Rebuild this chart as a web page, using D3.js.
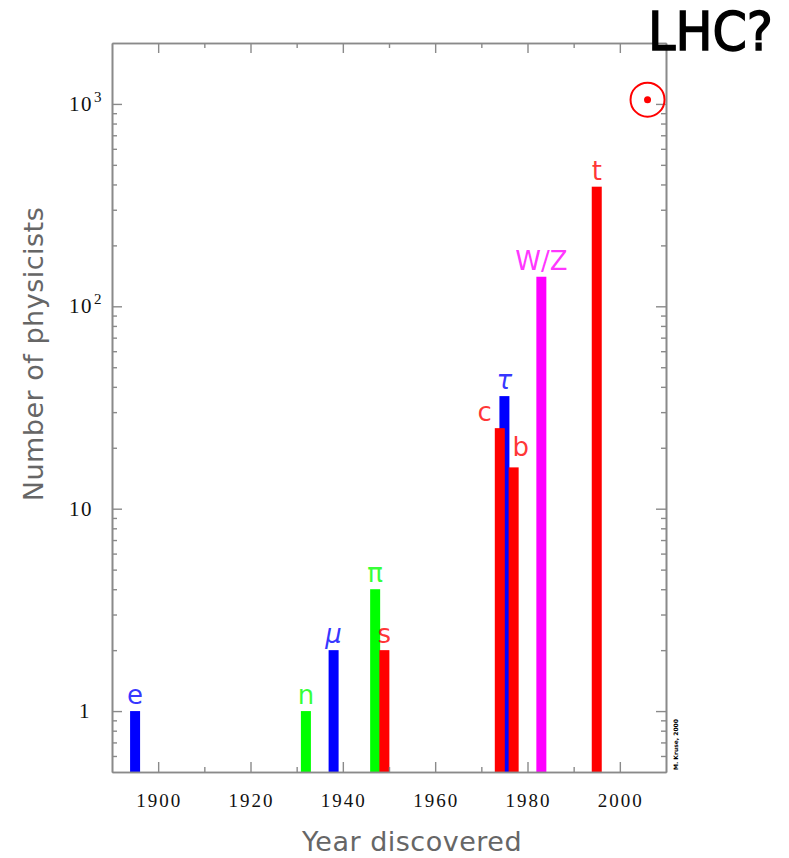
<!DOCTYPE html>
<html>
<head>
<meta charset="utf-8">
<script src="https://cdn.jsdelivr.net/npm/d3@7"></script>
<style>
    body { margin: 0; background: #fff; }
    svg { display: block; }
</style>
</head>
<body>
<svg id="chart" width="789" height="858"></svg>
<script>
// particles and the number of physicists on the discovery paper
var particles = ['e', 'n', '\u03bc', '\u03c0', 's', '\u03c4', 'c', 'b', 'W/Z', 't'];
var years = [1895, 1932, 1938, 1947, 1949, 1975, 1974, 1977, 1983, 1995];
var physicists = [1, 1, 2, 4, 2, 36, 25, 16, 140, 390];
var families = ['lepton', 'baryon', 'lepton', 'meson', 'quark', 'lepton', 'quark', 'quark', 'boson', 'quark'];

var lhcYear = 2006;
var lhcPhysicists = 1050;

var xMajorTicks = [1900, 1920, 1940, 1960, 1980, 2000];
var xMinorTicks = [1910, 1930, 1950, 1970, 1990];
var yMajorTicks = [1, 10, 100, 1000];
var yTickBase = ['1', '10', '10', '10'];
var yTickExp = ['', '', '2', '3'];

var familyColor = {
    lepton: '#0000ff',
    baryon: '#00ff00',
    meson: '#00ff00',
    quark: '#ff0000',
    boson: '#ff00ff'
};

var margin = {left: 112, top: 43, right: 666, bottom: 772};
var barWidth = 10;
var axisColor = '#8a8a8a';

var svg = d3.select('#chart');

var x = d3.scaleLinear().domain([1890, 2010]).range([margin.left, margin.right]);
var y = d3.scaleLog().domain([0.5, 2000]).range([margin.bottom, margin.top]);

// minor log ticks (2..9 per decade)
var yMinorTicks = [];
[0.1, 1, 10, 100].forEach(function (dec) {
    for (var k = 2; k <= 9; k++) {
        var v = dec * k;
        if (v > 0.5 && v < 2000) yMinorTicks.push(v);
    }
});

var data = particles.map(function (p, i) {
    return {name: p, year: years[i], value: physicists[i], family: families[i]};
});

// bars (tau first so c and b sit on top of it)
var order = ['\u03c4'];
var drawData = data.filter(function (d) { return order.indexOf(d.name) >= 0; })
    .concat(data.filter(function (d) { return order.indexOf(d.name) < 0; }));

svg.append('g').selectAll('rect')
    .data(drawData)
    .enter().append('rect')
    .attr('x', function (d) { return x(d.year) - barWidth / 2; })
    .attr('y', function (d) { return y(d.value); })
    .attr('width', barWidth)
    .attr('height', function (d) { return margin.bottom - y(d.value); })
    .attr('fill', function (d) { return familyColor[d.family]; });

// axes
function styleAxis(g) {
    g.selectAll('path').attr('stroke', axisColor).attr('stroke-width', 1.6);
    g.selectAll('line').attr('stroke', axisColor).attr('stroke-width', 1.4);
    g.selectAll('text').remove();
}

svg.append('g')
    .attr('transform', 'translate(0,' + margin.bottom + ')')
    .call(d3.axisBottom(x).tickValues(xMajorTicks).tickSize(-10).tickSizeOuter(0))
    .call(styleAxis);
svg.append('g')
    .attr('transform', 'translate(0,' + margin.bottom + ')')
    .call(d3.axisBottom(x).tickValues(xMinorTicks).tickSize(-5).tickSizeOuter(0))
    .call(styleAxis);
svg.append('g')
    .attr('transform', 'translate(0,' + margin.top + ')')
    .call(d3.axisTop(x).tickValues(xMajorTicks).tickSize(-10).tickSizeOuter(0))
    .call(styleAxis);
svg.append('g')
    .attr('transform', 'translate(0,' + margin.top + ')')
    .call(d3.axisTop(x).tickValues(xMinorTicks).tickSize(-5).tickSizeOuter(0))
    .call(styleAxis);
svg.append('g')
    .attr('transform', 'translate(' + margin.left + ',0)')
    .call(d3.axisLeft(y).tickValues(yMajorTicks).tickSize(-10).tickSizeOuter(0))
    .call(styleAxis);
svg.append('g')
    .attr('transform', 'translate(' + margin.left + ',0)')
    .call(d3.axisLeft(y).tickValues(yMinorTicks).tickSize(-5).tickSizeOuter(0))
    .call(styleAxis);
svg.append('g')
    .attr('transform', 'translate(' + margin.right + ',0)')
    .call(d3.axisRight(y).tickValues(yMajorTicks).tickSize(-10).tickSizeOuter(0))
    .call(styleAxis);
svg.append('g')
    .attr('transform', 'translate(' + margin.right + ',0)')
    .call(d3.axisRight(y).tickValues(yMinorTicks).tickSize(-5).tickSizeOuter(0))
    .call(styleAxis);

// tick labels
svg.append('g').selectAll('text')
    .data(xMajorTicks)
    .enter().append('text')
    .attr('x', function (d) { return x(d) + 1; })
    .attr('y', 807)
    .attr('text-anchor', 'middle')
    .attr('font-family', 'Liberation Serif, serif')
    .attr('font-size', 19)
    .attr('letter-spacing', 2)
    .attr('fill', '#111')
    .text(function (d) { return d; });

var yLabels = svg.append('g').selectAll('g')
    .data(yMajorTicks)
    .enter().append('g')
    .attr('transform', function (d) { return 'translate(0,' + y(d) + ')'; });

yLabels.append('text')
    .attr('x', function (d, i) { return i === 0 ? 91 : 93; })
    .attr('y', 7)
    .attr('text-anchor', 'end')
    .attr('font-family', 'Liberation Serif, serif')
    .attr('font-size', 21)
    .attr('letter-spacing', 1.5)
    .attr('fill', '#111')
    .text(function (d, i) { return yTickBase[i]; });

yLabels.append('text')
    .attr('x', 94)
    .attr('y', -2)
    .attr('text-anchor', 'start')
    .attr('font-family', 'Liberation Serif, serif')
    .attr('font-size', 15)
    .attr('fill', '#111')
    .text(function (d, i) { return yTickExp[i]; });

// particle labels
var labelShift = {
    'c': {dx: -barWidth / 2 - 3, anchor: 'end'},
    'b': {dx: 7, anchor: 'middle', dy: -4}
};
var italicNames = ['\u03bc', '\u03c4'];

svg.append('g').selectAll('text')
    .data(data)
    .enter().append('text')
    .attr('x', function (d) {
        var s = labelShift[d.name];
        return x(d.year) + (s ? s.dx : 0);
    })
    .attr('y', function (d) {
        var s = labelShift[d.name];
        return y(d.value) - 7 + (s && s.dy ? s.dy : 0);
    })
    .attr('text-anchor', function (d) {
        var s = labelShift[d.name];
        return s ? s.anchor : 'middle';
    })
    .attr('font-family', 'DejaVu Sans, sans-serif')
    .attr('font-style', function (d) {
        return italicNames.indexOf(d.name) >= 0 ? 'italic' : 'normal';
    })
    .attr('font-size', 26)
    .attr('fill', function (d) { return familyColor[d.family]; })
    .attr('fill-opacity', 0.8)
    .text(function (d) { return d.name; });

// axis titles
svg.append('text')
    .attr('x', 412)
    .attr('y', 851)
    .attr('text-anchor', 'middle')
    .attr('font-family', 'DejaVu Sans, sans-serif')
    .attr('font-size', 27)
    .attr('letter-spacing', 0.5)
    .attr('fill', '#666')
    .text('Year discovered');

svg.append('text')
    .attr('transform', 'translate(43,354) rotate(-90)')
    .attr('text-anchor', 'middle')
    .attr('font-family', 'DejaVu Sans, sans-serif')
    .attr('font-size', 27)
    .attr('letter-spacing', 0.5)
    .attr('fill', '#666')
    .text('Number of physicists');

// credit
svg.append('text')
    .attr('transform', 'translate(678,770) rotate(-90)')
    .attr('font-family', 'DejaVu Sans, sans-serif')
    .attr('font-weight', 'bold')
    .attr('font-size', 6)
    .attr('fill', '#000')
    .text('M. Kruse, 2000');

// LHC marker
svg.append('circle')
    .attr('cx', x(lhcYear))
    .attr('cy', y(lhcPhysicists))
    .attr('r', 17)
    .attr('fill', 'none')
    .attr('stroke', '#ff0000')
    .attr('stroke-width', 2);
svg.append('circle')
    .attr('cx', x(lhcYear))
    .attr('cy', y(lhcPhysicists))
    .attr('r', 3.5)
    .attr('fill', '#ff0000');

svg.append('text')
    .attr('x', 648)
    .attr('y', 50)
    .attr('font-family', 'Comic Sans MS, DejaVu Sans, sans-serif')
    .attr('font-size', 54)
    .attr('textLength', 125)
    .attr('lengthAdjust', 'spacingAndGlyphs')
    .attr('fill', '#000')
    .attr('stroke', '#000')
    .attr('stroke-width', 1.5)
    .text('LHC?');
</script>
</body>
</html>
